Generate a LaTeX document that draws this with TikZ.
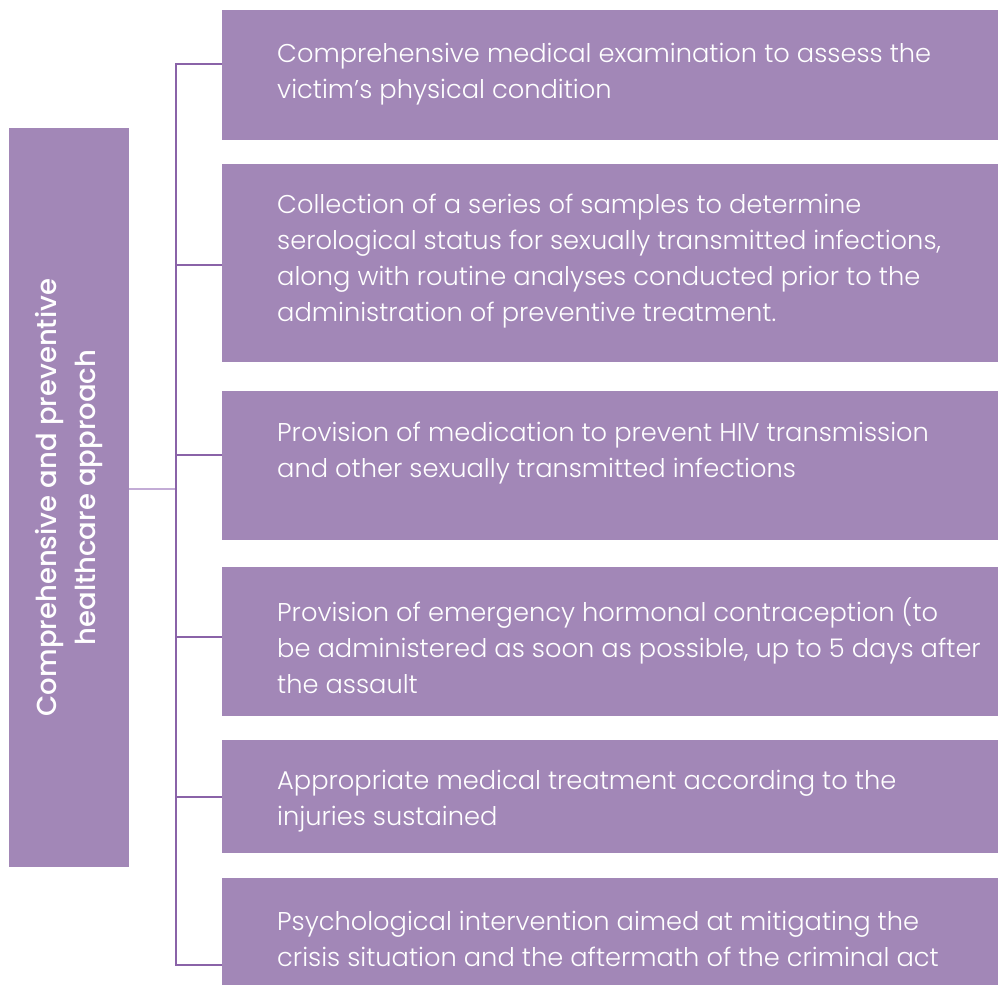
\documentclass[tikz,border=0pt]{standalone}
\usepackage{fontspec}
\setmainfont{Poppins}[UprightFont=* Light, BoldFont=* Medium]
\usetikzlibrary{positioning}
\usetikzlibrary{calc}
\definecolor{boxfill}{HTML}{A287B7}
\definecolor{trunkline}{HTML}{8A63A8}
\definecolor{rootline}{HTML}{C3ACD6}
\tikzset{
  item/.style = {
    rectangle, fill = boxfill, inner sep = 0pt, minimum width = 776pt },
  itemtext/.style = {
    anchor = west, align = left, text = white, inner sep = 0pt,
    font = \fontsize{25.7}{36}\selectfont }
}

\begin{document}
\begin{tikzpicture}[x=1pt,y=-1pt,
branch/.style={draw=trunkline, line width=2.4pt},
rootbranch/.style={draw=rootline, line width=2pt}]
\useasboundingbox (0,0) rectangle (998,985);

% left column
\node[rectangle, fill=boxfill, minimum width=120pt, minimum height=739pt] (root) at (69,497.5) {};
\node[rotate=90, align=center, text=white, inner sep=0pt,
      font=\fontsize{27.5}{39}\selectfont\bfseries] (roottext) at (root.center)
  {Comprehensive and preventive\\healthcare approach};

% boxes on the right
\foreach \y/\h/\n in {75/130/1,263/198/2,465.5/149/3,641.5/149/4,796.5/113/5,931.5/107/6}{
 \node[item, minimum height=\h pt] (b\n) at (610,\y){};
}

\node[itemtext] (l1) at (277,74)
  {Comprehensive medical examination to assess the\\victim’s physical condition};
\node[itemtext] (l2) at (277,261.5)
  {Collection of a series of samples to determine\\serological status for sexually transmitted infections,\\along with routine analyses conducted prior to the\\administration of preventive treatment.};
\node[itemtext] (l3) at (277,453.5)
  {Provision of medication to prevent HIV transmission\\and other sexually transmitted infections};
\node[itemtext] (l4) at (277,646)
  {Provision of emergency hormonal contraception (to\\be administered as soon as possible, up to 5 days after\\the assault};
\node[itemtext] (l5) at (277,801)
  {Appropriate medical treatment according to the\\injuries sustained};
\node[itemtext] (l6) at (277,938.5)
  {Psychological intervention aimed at mitigating the\\crisis situation and the aftermath of the criminal act};

% trunk and branches
\foreach \y/\n in {64/1,265/2,455/3,637/4,797/5,965/6}{
 \coordinate (t\n) at (176,\y);
}
\coordinate (j) at (176,489);

\draw[rootbranch] (root.east |- j) -- (j);
\draw[branch] (b1.west |- t1) -- (t1) -- (t6) -- (b6.west |- t6);
\foreach \n in {2,3,4,5}{
 \draw[branch] (t\n) -- (b\n.west |- t\n);
}
\end{tikzpicture}
\end{document}
